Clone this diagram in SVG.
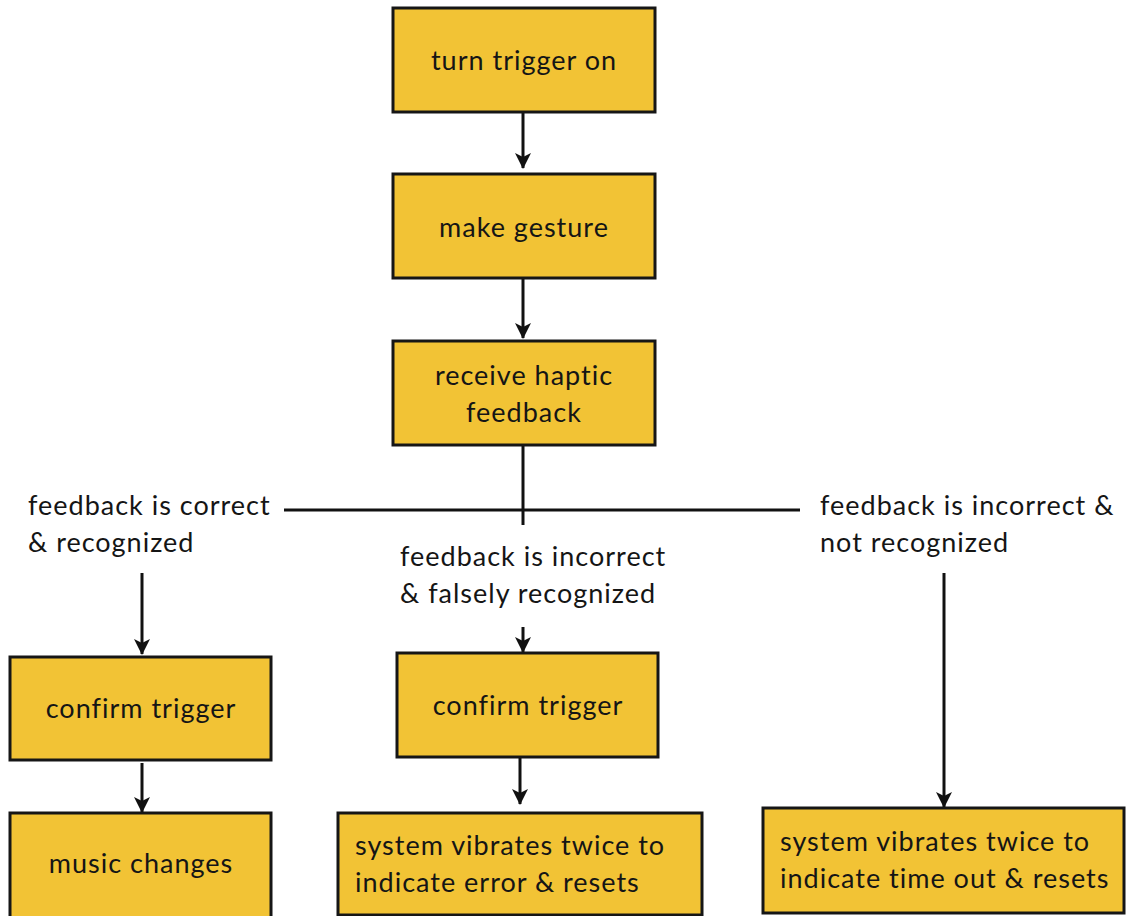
<svg xmlns="http://www.w3.org/2000/svg" width="1126" height="916" viewBox="0 0 1126 916">
<defs>
<marker id="ah" markerUnits="userSpaceOnUse" markerWidth="18" markerHeight="18" refX="15" refY="8" orient="auto">
<path d="M0,0 L16,8 L0,16 L4,8 Z" fill="#111"/>
</marker>
<style>
.box{fill:#F2C335;stroke:#161616;stroke-width:3}
.t{font-family:Lato,"Open Sans","Liberation Sans",sans-serif;font-size:27px;letter-spacing:1px;font-variant-ligatures:none;fill:#151515}
.c{text-anchor:middle}
.ln{stroke:#111;stroke-width:3;fill:none}
.ar{stroke:#111;stroke-width:3;fill:none;marker-end:url(#ah)}
</style>
</defs>
<rect width="1126" height="916" fill="#fff"/>
<g id="connectors">
<path class="ar" d="M523,112 V168"/>
<path class="ar" d="M523,278 V338"/>
<path class="ln" d="M523,445 V525"/>
<path class="ln" d="M284,510 H800"/>
<path class="ar" d="M142,573 V654"/>
<path class="ar" d="M142,763 V812"/>
<path class="ar" d="M523,627 V652"/>
<path class="ar" d="M520,758 V804"/>
<path class="ar" d="M944,573 V807"/>
</g>
<g id="n1"><rect class="box" x="393" y="8" width="262" height="104"/><text class="t c" x="524" y="70">turn trigger on</text></g>
<g id="n2"><rect class="box" x="393" y="174" width="262" height="104"/><text class="t c" x="524" y="237">make gesture</text></g>
<g id="n3"><rect class="box" x="393" y="341" width="262" height="104"/><text class="t c" x="524" y="385">receive haptic</text><text class="t c" x="524" y="422">feedback</text></g>
<g id="lbl-left"><text class="t" x="28" y="515">feedback is correct</text><text class="t" x="28" y="552">&amp; recognized</text></g>
<g id="lbl-mid"><text class="t" x="400" y="566">feedback is incorrect</text><text class="t" x="400" y="603">&amp; falsely recognized</text></g>
<g id="lbl-right"><text class="t" x="820" y="515">feedback is incorrect &amp;</text><text class="t" x="820" y="552">not recognized</text></g>
<g id="n4"><rect class="box" x="10" y="657" width="261" height="103"/><text class="t c" x="141" y="718">confirm trigger</text></g>
<g id="n5"><rect class="box" x="10" y="813" width="261" height="110"/><text class="t c" x="141" y="873">music changes</text></g>
<g id="n6"><rect class="box" x="397" y="653" width="261" height="104"/><text class="t c" x="528" y="715">confirm trigger</text></g>
<g id="n7"><rect class="box" x="338" y="813" width="364" height="102"/><text class="t" x="355" y="855">system vibrates twice to</text><text class="t" x="355" y="892">indicate error &amp; resets</text></g>
<g id="n8"><rect class="box" x="763" y="808" width="361" height="105"/><text class="t" x="780" y="851">system vibrates twice to</text><text class="t" x="780" y="888">indicate time out &amp; resets</text></g>
</svg>
